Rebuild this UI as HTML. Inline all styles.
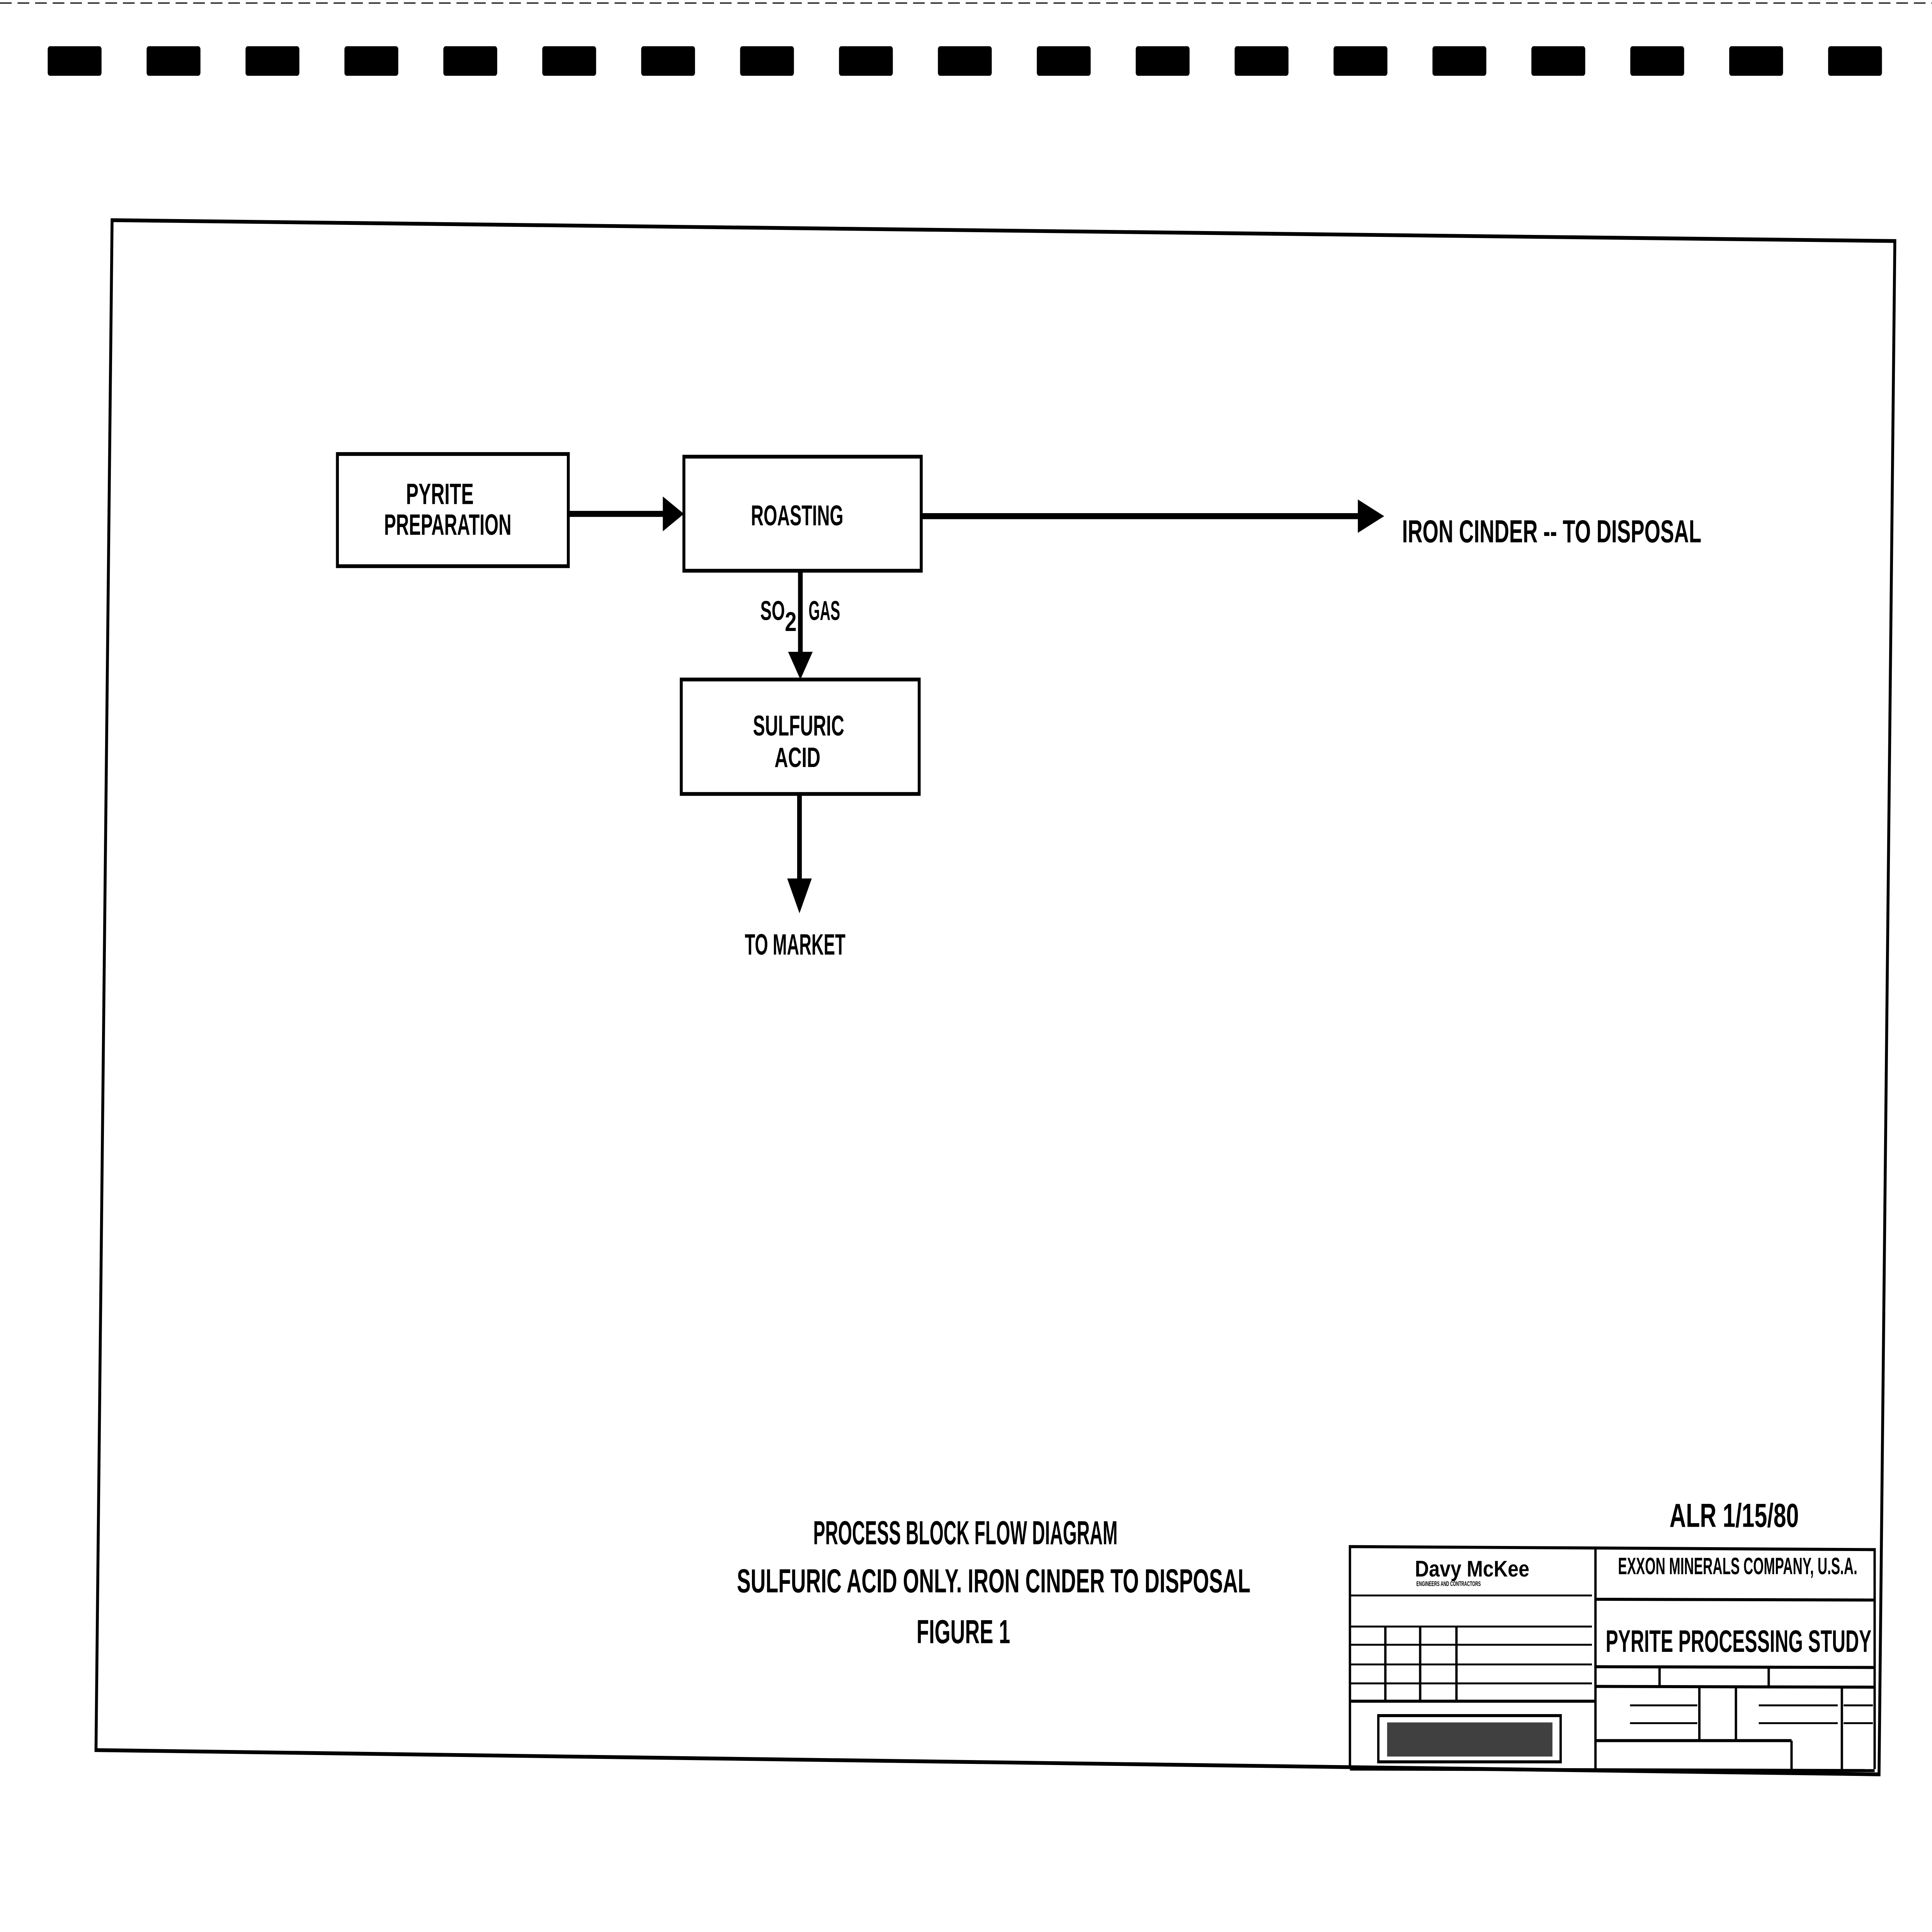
<!DOCTYPE html>
<html><head><meta charset="utf-8"><style>
html,body{margin:0;padding:0;background:#fff;width:100%;height:100%;overflow:hidden}
svg{display:block;position:absolute;left:0;top:0;width:100vw;height:100vh}
text{font-family:"Liberation Sans Narrow","Liberation Sans",sans-serif;font-weight:bold;fill:#000}
</style></head><body>
<svg viewBox="0 0 6602 5098" preserveAspectRatio="none" xmlns="http://www.w3.org/2000/svg">
<rect width="6602" height="5098" fill="#fff"/>
<line x1="0" y1="8" x2="6602" y2="8" stroke="#000" stroke-width="3" stroke-dasharray="40 20"/>
<g fill="#000">
<rect x="163" y="122" width="184" height="78" rx="8"/>
<rect x="501" y="122" width="184" height="78" rx="8"/>
<rect x="839" y="122" width="184" height="78" rx="8"/>
<rect x="1177" y="122" width="184" height="78" rx="8"/>
<rect x="1515" y="122" width="184" height="78" rx="8"/>
<rect x="1853" y="122" width="184" height="78" rx="8"/>
<rect x="2191" y="122" width="184" height="78" rx="8"/>
<rect x="2529" y="122" width="184" height="78" rx="8"/>
<rect x="2867" y="122" width="184" height="78" rx="8"/>
<rect x="3205" y="122" width="184" height="78" rx="8"/>
<rect x="3543" y="122" width="184" height="78" rx="8"/>
<rect x="3881" y="122" width="184" height="78" rx="8"/>
<rect x="4219" y="122" width="184" height="78" rx="8"/>
<rect x="4557" y="122" width="184" height="78" rx="8"/>
<rect x="4895" y="122" width="184" height="78" rx="8"/>
<rect x="5233" y="122" width="184" height="78" rx="8"/>
<rect x="5571" y="122" width="184" height="78" rx="8"/>
<rect x="5909" y="122" width="184" height="78" rx="8"/>
<rect x="6247" y="122" width="184" height="78" rx="8"/>
</g>
<polygon points="383,581 6475,636 6421,4682 328,4618" fill="none" stroke="#000" stroke-width="10"/>
<g fill="none" stroke="#000" stroke-width="10">
<rect x="1153" y="1198" width="789" height="296"/>
<rect x="2337" y="1205" width="811" height="301"/>
<rect x="2328" y="1793" width="813" height="302"/>
</g>
<g stroke="#000" stroke-width="16">
<line x1="1942" y1="1356" x2="2280" y2="1356"/>
<line x1="3148" y1="1362" x2="4660" y2="1362"/>
<line x1="2735" y1="1506" x2="2735" y2="1740"/>
<line x1="2732" y1="2095" x2="2732" y2="2330"/>
</g>
<g fill="#000">
<polygon points="2265,1310 2337,1356 2265,1402"/>
<polygon points="4640,1318 4730,1362 4640,1406"/>
<polygon points="2693,1720 2777,1720 2735,1793"/>
<polygon points="2690,2318 2774,2318 2732,2410"/>
</g>
<text x="1503" y="1330" font-size="78" text-anchor="middle" textLength="231" lengthAdjust="spacingAndGlyphs">PYRITE</text>
<text x="1530" y="1411" font-size="78" text-anchor="middle" textLength="435" lengthAdjust="spacingAndGlyphs">PREPARATION</text>
<text x="2724" y="1386" font-size="76" text-anchor="middle" textLength="316" lengthAdjust="spacingAndGlyphs">ROASTING</text>
<text x="2729" y="1941" font-size="76" text-anchor="middle" textLength="312" lengthAdjust="spacingAndGlyphs">SULFURIC</text>
<text x="2725" y="2024" font-size="74" text-anchor="middle" textLength="157" lengthAdjust="spacingAndGlyphs">ACID</text>
<text x="2598" y="1636" font-size="72" textLength="84" lengthAdjust="spacingAndGlyphs">SO</text>
<text x="2682" y="1665" font-size="72">2</text>
<text x="2763" y="1636" font-size="72" textLength="108" lengthAdjust="spacingAndGlyphs">GAS</text>
<text x="2545" y="2519" font-size="78" textLength="344" lengthAdjust="spacingAndGlyphs">TO MARKET</text>
<text x="4791" y="1431" font-size="84" textLength="1023" lengthAdjust="spacingAndGlyphs">IRON CINDER -- TO DISPOSAL</text>
<text x="2779" y="4075" font-size="88" textLength="1040" lengthAdjust="spacingAndGlyphs">PROCESS BLOCK FLOW DIAGRAM</text>
<text x="2518" y="4202" font-size="88" textLength="1755" lengthAdjust="spacingAndGlyphs">SULFURIC ACID ONLY.   IRON CINDER TO DISPOSAL</text>
<text x="3132" y="4336" font-size="88" textLength="320" lengthAdjust="spacingAndGlyphs">FIGURE 1</text>
<text x="5705" y="4029" font-size="88" textLength="442" lengthAdjust="spacingAndGlyphs">ALR 1/15/80</text>
<g fill="none" stroke="#000" stroke-width="8">
<polyline points="4613,4668 4613,4081 6406,4089 6406,4668"/>
<line x1="5452" y1="4083" x2="5452" y2="4668"/>
<line x1="4613" y1="4668" x2="6406" y2="4672"/>
<line x1="4613" y1="4489" x2="5452" y2="4489"/>
<line x1="4734" y1="4292" x2="4734" y2="4489"/>
<line x1="4853" y1="4292" x2="4853" y2="4489"/>
<line x1="4977" y1="4292" x2="4977" y2="4489"/>
<rect x="4710" y="4527" width="623" height="122"/>
<line x1="5452" y1="4220" x2="6406" y2="4222"/>
<line x1="5452" y1="4398" x2="6406" y2="4400"/>
<line x1="5452" y1="4450" x2="6406" y2="4452"/>
<line x1="5671" y1="4398" x2="5671" y2="4450"/>
<line x1="6044" y1="4398" x2="6044" y2="4450"/>
<line x1="5807" y1="4450" x2="5807" y2="4593"/>
<line x1="5932" y1="4450" x2="5932" y2="4593"/>
<line x1="6294" y1="4450" x2="6294" y2="4668"/>
<line x1="5452" y1="4593" x2="6122" y2="4593"/>
<line x1="6122" y1="4593" x2="6122" y2="4668"/>
</g>
<g fill="none" stroke="#000" stroke-width="5">
<line x1="4613" y1="4210" x2="5440" y2="4210"/>
<line x1="4613" y1="4292" x2="5440" y2="4292"/>
<line x1="4613" y1="4340" x2="5440" y2="4340"/>
<line x1="4613" y1="4392" x2="5440" y2="4392"/>
<line x1="4613" y1="4442" x2="5440" y2="4442"/>
<line x1="5570" y1="4500" x2="5800" y2="4500"/>
<line x1="5570" y1="4547" x2="5800" y2="4547"/>
<line x1="6010" y1="4500" x2="6280" y2="4500"/>
<line x1="6010" y1="4547" x2="6280" y2="4547"/>
<line x1="6300" y1="4500" x2="6400" y2="4500"/>
<line x1="6300" y1="4547" x2="6400" y2="4547"/>
</g>
<rect x="4740" y="4545" width="565" height="90" fill="#000" opacity="0.75"/>
<text x="4835" y="4160" font-size="60" textLength="391" lengthAdjust="spacingAndGlyphs" style="font-family:'Liberation Sans',sans-serif">Davy McKee</text>
<text x="4840" y="4185" font-size="18" textLength="220" lengthAdjust="spacingAndGlyphs">ENGINEERS AND CONTRACTORS</text>
<text x="5529" y="4154" font-size="62" textLength="818" lengthAdjust="spacingAndGlyphs">EXXON MINERALS COMPANY, U.S.A.</text>
<text x="5487" y="4359" font-size="82" font-weight="normal" textLength="908" lengthAdjust="spacingAndGlyphs">PYRITE PROCESSING STUDY</text>
</svg>
</body></html>
